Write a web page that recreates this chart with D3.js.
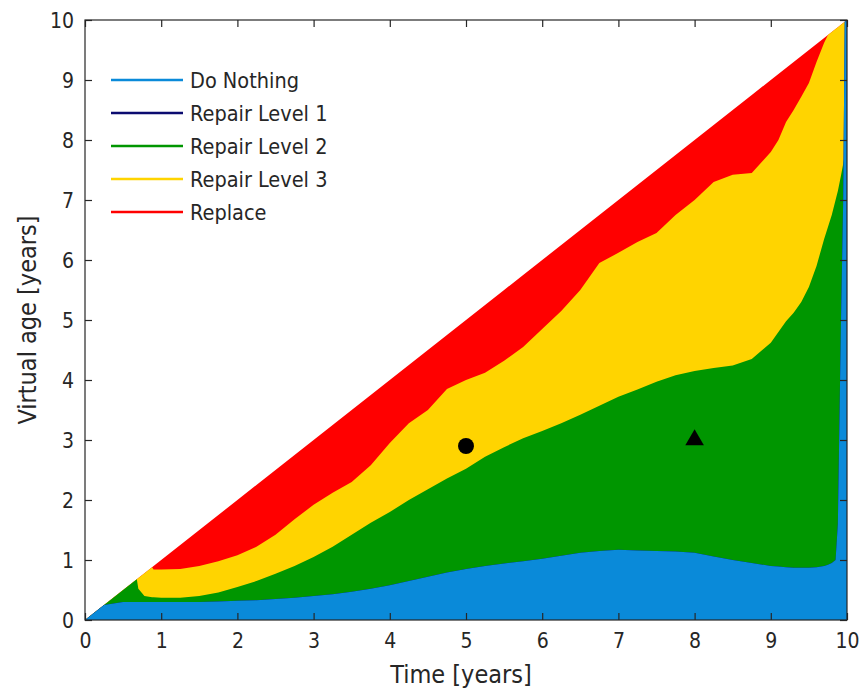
<!DOCTYPE html>
<html>
<head>
<meta charset="utf-8">
<script src="https://cdn.jsdelivr.net/npm/d3@7"></script>
<style>
  html, body { margin: 0; padding: 0; background: #ffffff; }
  svg text { font-family: "DejaVu Sans Condensed", "DejaVu Sans", sans-serif; fill: #262626; }
</style>
</head>
<body>
<svg id="chart" width="860" height="690"></svg>
<script>
// Time grid [years]
const time = [0, 0.25, 0.5, 0.68, 0.7, 0.78, 0.88, 0.9, 1,
  1.25, 1.5, 1.75, 2, 2.25, 2.5, 2.75, 3,
  3.25, 3.5, 3.75, 4, 4.25, 4.5, 4.75, 5, 5.25, 5.5, 5.75, 6,
  6.25, 6.5, 6.75, 7, 7.25, 7.5, 7.75, 8, 8.25, 8.5, 8.75, 9,
  9.1, 9.2, 9.3, 9.4, 9.5, 9.6, 9.7,
  9.75, 9.8, 9.85, 9.88, 9.92, 9.95, 9.97, 10];

// Upper virtual-age edge of each decision region at each time
const doNothingTop = [0, 0.25, 0.3, 0.3, 0.3, 0.3, 0.3, 0.3, 0.3,
  0.3, 0.3, 0.31, 0.32, 0.33, 0.35, 0.37, 0.4,
  0.43, 0.47, 0.52, 0.58, 0.65, 0.72, 0.79, 0.85, 0.9, 0.94, 0.98, 1.02,
  1.07, 1.12, 1.15, 1.17, 1.16, 1.15, 1.14, 1.12, 1.06, 1.0, 0.95, 0.9,
  0.89, 0.88, 0.87, 0.87, 0.87, 0.88, 0.9,
  0.92, 0.95, 1.0, 1.6, 4.9, 7.0, 9.97, 10];

const repair1Top = doNothingTop.slice();

const repair2Top = [0, 0.25, 0.5, 0.68, 0.52, 0.4, 0.38, 0.38, 0.37,
  0.37, 0.4, 0.46, 0.55, 0.65, 0.77, 0.9, 1.05,
  1.22, 1.42, 1.62, 1.8, 2.0, 2.18, 2.36, 2.52, 2.72, 2.88, 3.03, 3.15,
  3.28, 3.42, 3.57, 3.72, 3.84, 3.97, 4.08, 4.15, 4.2, 4.24, 4.35, 4.62,
  4.8, 4.98, 5.12, 5.3, 5.55, 5.9, 6.35,
  6.55, 6.75, 7.0, 7.15, 7.4, 7.6, 7.75, 7.9];

const repair3Top = [0, 0.25, 0.5, 0.68, 0.7, 0.78, 0.88, 0.84, 0.84,
  0.85, 0.9, 0.98, 1.08, 1.22, 1.42, 1.68, 1.92,
  2.12, 2.3, 2.58, 2.95, 3.28, 3.5, 3.85, 4.0, 4.12, 4.32, 4.55, 4.85,
  5.15, 5.5, 5.95, 6.12, 6.3, 6.45, 6.75, 7.0, 7.3, 7.42, 7.45, 7.8,
  8.0, 8.3, 8.5, 8.72, 8.95, 9.3, 9.62,
  9.75, 9.8, 9.85, 9.88, 9.92, 9.95, 9.97, 10];

const replaceTop = [0, 0.25, 0.5, 0.68, 0.7, 0.78, 0.88, 0.9, 1,
  1.25, 1.5, 1.75, 2, 2.25, 2.5, 2.75, 3,
  3.25, 3.5, 3.75, 4, 4.25, 4.5, 4.75, 5, 5.25, 5.5, 5.75, 6,
  6.25, 6.5, 6.75, 7, 7.25, 7.5, 7.75, 8, 8.25, 8.5, 8.75, 9,
  9.1, 9.2, 9.3, 9.4, 9.5, 9.6, 9.7,
  9.75, 9.8, 9.85, 9.88, 9.92, 9.95, 9.97, 10];

const seriesNames = ["Do Nothing", "Repair Level 1", "Repair Level 2", "Repair Level 3", "Replace"];
const seriesColors = ["#0a8ad9", "#0b0b70", "#009600", "#ffd400", "#ff0000"];
const seriesTops = [doNothingTop, repair1Top, repair2Top, repair3Top, replaceTop];

const xTicks = [0, 1, 2, 3, 4, 5, 6, 7, 8, 9, 10];
const yTicks = [0, 1, 2, 3, 4, 5, 6, 7, 8, 9, 10];

// Example states marked on the map
const markerTime = [5, 8];
const markerAge = [2.9, 3.0];
const markerShape = ["circle", "triangle"];

const svg = d3.select("#chart");
const plot = { left: 85, right: 847, top: 20, bottom: 620 };

const x = d3.scaleLinear().domain([0, 10]).range([plot.left, plot.right]);
const y = d3.scaleLinear().domain([0, 10]).range([plot.bottom, plot.top]);

// Regions are painted from the outermost (Replace) inwards
const areaGen = d3.area()
  .x(d => x(d.t))
  .y0(y(0))
  .y1(d => y(d.v));

const g = svg.append("g");
for (let k = seriesTops.length - 1; k >= 0; k--) {
  const pts = time.map((t, i) => ({ t: t, v: seriesTops[k][i] }));
  g.append("path")
    .datum(pts)
    .attr("d", areaGen)
    .attr("fill", seriesColors[k])
    .attr("stroke", "none");
}

// Markers
const symGen = d3.symbol();
markerTime.forEach((t, i) => {
  const type = markerShape[i] === "circle" ? d3.symbolCircle : d3.symbolTriangle;
  const size = markerShape[i] === "circle" ? 200 : 150;
  svg.append("path")
    .attr("d", symGen.type(type).size(size)())
    .attr("transform", `translate(${x(t)},${y(markerAge[i])})`)
    .attr("fill", "#000");
});

// Axes with inward ticks on all four sides
const tickLen = 7;
const fontTick = 21;

const axB = svg.append("g").attr("transform", `translate(0,${plot.bottom})`)
  .call(d3.axisBottom(x).tickValues(xTicks).tickFormat(d3.format("d")).tickSize(-tickLen));
axB.selectAll("text").attr("y", 28).attr("dy", null).style("font-size", fontTick + "px");

const axT = svg.append("g").attr("transform", `translate(0,${plot.top})`)
  .call(d3.axisTop(x).tickValues(xTicks).tickFormat("").tickSize(-tickLen));

const axL = svg.append("g").attr("transform", `translate(${plot.left},0)`)
  .call(d3.axisLeft(y).tickValues(yTicks).tickFormat(d3.format("d")).tickSize(-tickLen));
axL.selectAll("text").attr("x", -11).attr("dy", "0.36em").style("font-size", fontTick + "px");

const axR = svg.append("g").attr("transform", `translate(${plot.right},0)`)
  .call(d3.axisRight(y).tickValues(yTicks).tickFormat("").tickSize(-tickLen));

[axB, axT, axL, axR].forEach(a => {
  a.select(".domain").remove();
  a.selectAll("line").attr("stroke", "#262626").attr("stroke-width", 1.2);
  a.selectAll("text").attr("fill", "#262626");
});

svg.append("rect")
  .attr("x", plot.left).attr("y", plot.top)
  .attr("width", plot.right - plot.left).attr("height", plot.bottom - plot.top)
  .attr("fill", "none").attr("stroke", "#262626").attr("stroke-width", 1.2);

// Axis titles
svg.append("text")
  .attr("x", 461).attr("y", 683)
  .attr("text-anchor", "middle")
  .style("font-size", "25px")
  .text("Time [years]");

svg.append("text")
  .attr("transform", "translate(36,320) rotate(-90)")
  .attr("text-anchor", "middle")
  .style("font-size", "25px")
  .text("Virtual age [years]");

// Legend
const legend = svg.append("g");
seriesNames.forEach((name, i) => {
  const ly = 80 + i * 33;
  legend.append("line")
    .attr("x1", 111).attr("x2", 183).attr("y1", ly).attr("y2", ly)
    .attr("stroke", seriesColors[i]).attr("stroke-width", 2.5);
  legend.append("text")
    .attr("x", 190).attr("y", ly).attr("dy", "0.36em")
    .style("font-size", "21.5px")
    .text(name);
});
</script>
</body>
</html>
